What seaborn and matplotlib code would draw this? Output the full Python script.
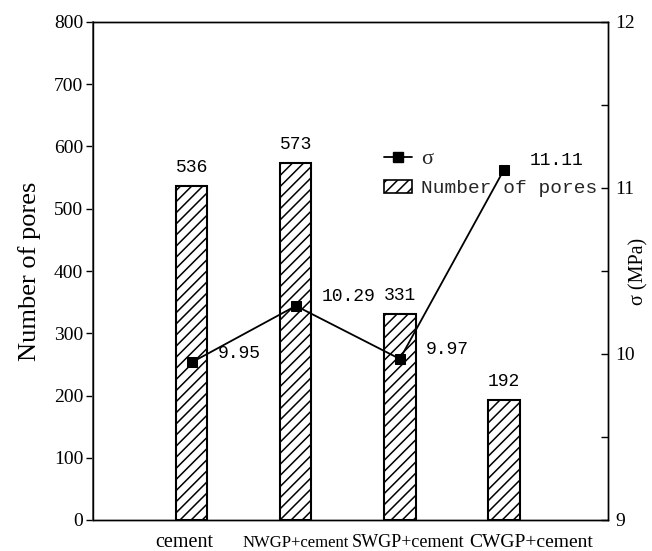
import numpy as np
import pandas as pd
import matplotlib
matplotlib.use("Agg")
import matplotlib.pyplot as plt
import matplotlib.transforms as mtransforms
from matplotlib.lines import Line2D
from matplotlib.patches import Patch
from matplotlib.ticker import MultipleLocator
import seaborn as sns

# ---- data ----
categories = ["cement", "NWGP+cement", "SWGP+cement", "CWGP+cement"]
pores = [536, 573, 331, 192]
sigma = [9.95, 10.29, 9.97, 11.11]
left_ticks = [0, 100, 200, 300, 400, 500, 600, 700, 800]
right_ticks = [9, 10, 11, 12]

sns.set_theme(style="white")
plt.rcParams['font.family'] = ['Liberation Serif', 'DejaVu Serif']
plt.rcParams['hatch.linewidth'] = 1.1
plt.rcParams['hatch.color'] = 'black'

fig = plt.figure(figsize=(6.52, 5.51), dpi=100)
ax = fig.add_axes([93/652, 1 - 520/551, (608 - 93)/652, (520 - 22)/551])

df = pd.DataFrame({"cat": categories, "pores": pores})
sns.barplot(data=df, x="cat", y="pores", order=categories, color="white",
            edgecolor="black", linewidth=1.5, width=0.3, saturation=1, ax=ax)
for p in ax.patches:
    p.set_hatch('///')
    p.set_facecolor('white')

ax2 = ax.twinx()
sns.lineplot(x=np.arange(len(sigma)), y=sigma, ax=ax2, color='black',
             marker='s', markersize=7, linewidth=1.3, markeredgecolor='black')

ax.set_xlim(-0.95, 4.0)
ax.set_ylim(0, 800)
ax2.set_ylim(9, 12)
ax.set_yticks(left_ticks)
ax2.set_yticks(right_ticks)
ax2.yaxis.set_minor_locator(MultipleLocator(0.5))

for a in (ax, ax2):
    for s in a.spines.values():
        s.set_color('black')
        s.set_linewidth(1.0)
ax.spines['left'].set_color('#555555')
ax.spines['left'].set_linewidth(1.3)

ax.tick_params(axis='y', left=True, direction='out', length=5, width=1,
               labelsize=14, pad=2, colors='black')
ax.tick_params(axis='x', bottom=False, length=0, pad=19.5, colors='black')
ax2.tick_params(axis='y', which='both', right=True, direction='in', length=5,
                width=1, labelsize=14, pad=5, colors='black')

ax.set_xlabel("")
ax.set_ylabel("Number of pores", fontsize=19, labelpad=9, color='black')
ax2.set_ylabel("σ (MPa)", fontsize=14.5, color='black')
ax2.yaxis.set_label_coords((629 - 93) / 515, 0.5)

# bar value labels
for i, v in enumerate(pores):
    ax.annotate(str(v), (i, v), xytext=(0, 13.5), textcoords='offset points',
                ha='center', va='center', family='Liberation Mono', fontsize=13,
                color='black')

# sigma value labels
for i, v in enumerate(sigma):
    ax2.annotate(f"{v:.2f}", (i, v), xytext=(18.5, 6.5), textcoords='offset points',
                 ha='left', va='center', family='Liberation Mono', fontsize=13,
                 color='black')

handles = [Line2D([], [], color='black', marker='s', markersize=7, lw=1.3),
           Patch(facecolor='white', edgecolor='black', hatch='///', lw=1.2)]
leg = ax2.legend(handles, ['σ', 'Number of pores'], loc='upper left',
                 bbox_to_anchor=(0.566, 0.743), frameon=False,
                 prop={'family': 'Liberation Mono', 'size': 14},
                 handlelength=1.4, handletextpad=0.5, labelspacing=0.55,
                 borderpad=0, borderaxespad=0)
leg.get_texts()[0].set_fontfamily('Liberation Serif')
leg.get_texts()[0].set_fontsize(16)

# x tick labels
ax.set_xticks(range(len(categories)))
ax.set_xticklabels(categories)
sizes = [14.5, 12, 13, 14]
dx_px = [-8, 0, 8, 27]
for lab, s, dx in zip(ax.get_xticklabels(), sizes, dx_px):
    lab.set_fontsize(s)
    lab.set_va('baseline')
    lab.set_color('black')
    lab.set_transform(lab.get_transform() +
                      mtransforms.ScaledTranslation(dx / 100, 0, fig.dpi_scale_trans))

fig.savefig("out.png", dpi=100)
